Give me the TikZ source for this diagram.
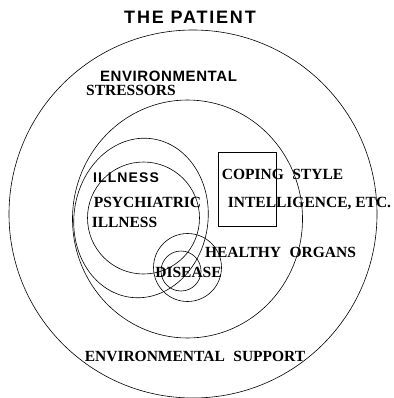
\documentclass[tikz,border=0pt]{standalone}
\usepackage{fontspec}
\setmainfont{Liberation Serif}
\setsansfont{Liberation Sans}
\newcommand\widewords{\spaceskip 0.55em\relax}
\begin{document}
\begin{tikzpicture}[x=1pt,y=-1pt,
  ring/.style={draw=black,line width=0.6pt},
  lab/.style={inner sep=0pt,anchor=base},
  serif/.style={lab,font=\fontsize{15.5}{16}\selectfont\bfseries},
  wide/.style={serif,font=\fontsize{15.5}{16}\selectfont\bfseries\widewords},
  sans/.style={lab,font=\fontsize{15}{16}\selectfont\sffamily\bfseries\addfontfeature{LetterSpace=4}}]
\useasboundingbox (0,0) rectangle (393,398);

% nested regions
\draw[ring] (193,214) circle [radius=184pt];
\draw[ring] (187.5,219) ellipse [x radius=115pt, y radius=119pt];
\draw[ring, rotate around={-8:(141,218)}] (141,218) ellipse [x radius=67pt, y radius=80pt];
\draw[ring] (143.5,218) circle [radius=56pt];
\draw[ring] (187.5,267.5) circle [radius=34pt];
\draw[ring] (181,271) circle [radius=20pt];
\draw[ring] (218,152) rectangle (276,226);

% labels
\node[lab,font=\fontsize{18}{20}\selectfont\sffamily\bfseries\addfontfeature{LetterSpace=10}] (patient) at (190,24) {THE PATIENT};
\node[sans] (env) at (168.5,82) {ENVIRONMENTAL};
\node[serif] (stress) at (131,96) {STRESSORS};
\node[lab,font=\fontsize{14}{16}\selectfont\sffamily\bfseries\addfontfeature{LetterSpace=8}] (ill) at (126,182) {ILLNESS};
\node[wide] (coping) at (282.5,179) {COPING STYLE};
\node[serif] (intel) at (309.5,207.5) {INTELLIGENCE, ETC.};
\node[serif] (psych) at (147.5,207.5) {PSYCHIATRIC};
\node[serif] (psychill) at (124.5,227) {ILLNESS};
\node[wide] (organs) at (280.5,257) {HEALTHY ORGANS};
\node[serif] (disease) at (188.5,277) {DISEASE};
\node[wide] (support) at (195,361) {ENVIRONMENTAL SUPPORT};
\end{tikzpicture}
\end{document}
